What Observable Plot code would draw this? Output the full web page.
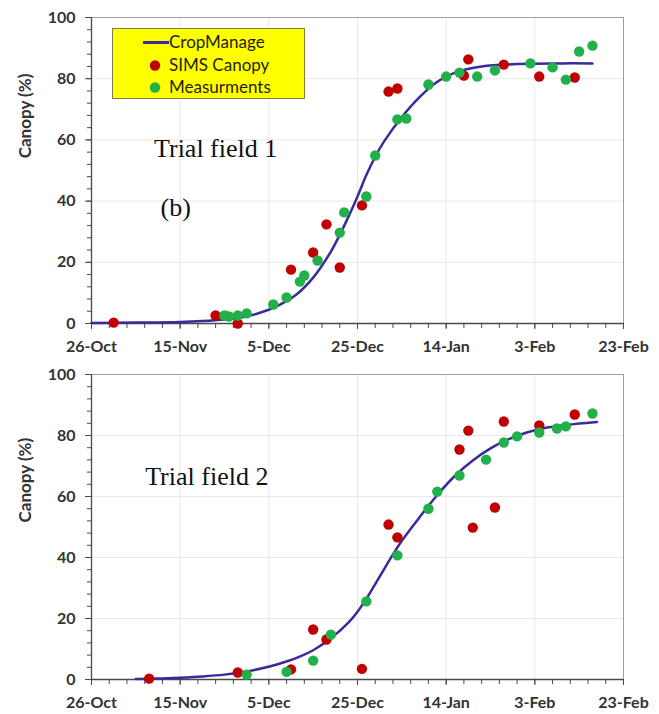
<!DOCTYPE html>
<html>
<head>
<meta charset="utf-8">
<script src="https://cdn.jsdelivr.net/npm/d3@7"></script>
<script src="https://cdn.jsdelivr.net/npm/@observablehq/plot@0.6"></script>
<style>
  body { margin: 0; background: #fff; }
  #wrap { position: relative; width: 659px; height: 714px; overflow: hidden; }
  #wrap svg { display: block; }
  .legend { position: absolute; left: 112px; top: 28px; width: 191px; height: 69px;
    background: #ffff00; border: 1px solid #7f7f3f; font-family: Lato, sans-serif;
    font-size: 17px; color: #1f1f00; }
  .legend .row { position: absolute; left: 0; height: 22px; line-height: 22px; white-space: nowrap; }
  .legend svg { position: absolute; left: 0; top: 0; }
  .legend span { position: absolute; left: 56px; top: 0; }
</style>
</head>
<body>
<div id="wrap"></div>
<script>
// ---------- data ----------
const xTickDates = ["2018-10-26","2018-11-15","2018-12-05","2018-12-25","2019-01-14","2019-02-03","2019-02-23"];
const xTickLabels = ["26-Oct","15-Nov","5-Dec","25-Dec","14-Jan","3-Feb","23-Feb"];
const yTicks = [0, 20, 40, 60, 80, 100];
const yLabel = "Canopy (%)";
const seriesNames = ["CropManage", "SIMS Canopy", "Measurments"];

// Trial field 1
const sims1Dates = ["2018-10-31","2018-11-23","2018-11-28","2018-12-10","2018-12-15","2018-12-18","2018-12-21","2018-12-26","2019-01-01","2019-01-03","2019-01-18","2019-01-19","2019-01-27","2019-02-04","2019-02-12"];
const sims1Values = [0.3, 2.6, 0, 17.6, 23.2, 32.4, 18.3, 38.6, 75.8, 76.8, 81, 86.3, 84.6, 80.7, 80.4];
const meas1Dates = ["2018-11-25","2018-11-26","2018-11-28","2018-11-30","2018-12-06","2018-12-09","2018-12-12","2018-12-13","2018-12-16","2018-12-21","2018-12-22","2018-12-27","2018-12-29","2019-01-03","2019-01-05","2019-01-10","2019-01-14","2019-01-17","2019-01-21","2019-01-25","2019-02-02","2019-02-07","2019-02-10","2019-02-13","2019-02-16"];
const meas1Values = [2.6, 2.3, 2.6, 3.3, 6.2, 8.5, 13.7, 15.7, 20.6, 29.7, 36.3, 41.5, 54.9, 66.7, 67, 78.1, 80.7, 82, 80.7, 82.7, 85, 83.7, 79.7, 88.9, 90.8];
const crop1Dates = ["2018-10-26","2018-11-05","2018-11-15","2018-11-20","2018-11-25","2018-11-29","2018-12-03","2018-12-07","2018-12-11","2018-12-15","2018-12-19","2018-12-21","2018-12-23","2018-12-25","2018-12-27","2018-12-29","2018-12-31","2019-01-04","2019-01-08","2019-01-12","2019-01-16","2019-01-22","2019-01-30","2019-02-09","2019-02-16"];
const crop1Values = [0.2, 0.3, 0.5, 0.8, 1.3, 2.0, 3.5, 5.8, 9.2, 15, 23.5, 29, 35, 41.5, 48.5, 54.5, 59.5, 67.5, 74, 79, 82, 84, 84.8, 85, 85];
const notes1Labels = ["Trial field 1", "(b)"];
const notes1Dates = ["2018-11-23", "2018-11-14"];
const notes1Values = [57, 38];

// Trial field 2
const sims2Dates = ["2018-11-08","2018-11-28","2018-12-10","2018-12-15","2018-12-18","2018-12-26","2019-01-01","2019-01-03","2019-01-17","2019-01-19","2019-01-20","2019-01-25","2019-01-27","2019-02-04","2019-02-12"];
const sims2Values = [0.3, 2.3, 3.3, 16.4, 13.1, 3.5, 50.8, 46.6, 75.4, 81.6, 49.8, 56.4, 84.6, 83.3, 86.9];
const meas2Dates = ["2018-11-30","2018-12-09","2018-12-15","2018-12-19","2018-12-27","2019-01-03","2019-01-10","2019-01-12","2019-01-17","2019-01-23","2019-01-27","2019-01-30","2019-02-04","2019-02-08","2019-02-10","2019-02-16"];
const meas2Values = [1.6, 2.5, 6.2, 14.7, 25.6, 40.7, 56, 61.6, 66.9, 72.1, 77.7, 79.7, 81, 82.3, 83, 87.2];
const crop2Dates = ["2018-11-05","2018-11-10","2018-11-15","2018-11-20","2018-11-25","2018-11-29","2018-12-03","2018-12-07","2018-12-11","2018-12-15","2018-12-19","2018-12-23","2018-12-25","2018-12-27","2018-12-29","2018-12-31","2019-01-02","2019-01-04","2019-01-08","2019-01-12","2019-01-16","2019-01-20","2019-01-24","2019-01-28","2019-02-01","2019-02-05","2019-02-09","2019-02-13","2019-02-17"];
const crop2Values = [0.2, 0.3, 0.6, 1.0, 1.6, 2.4, 3.5, 5.0, 6.9, 9.6, 13.5, 18.7, 22.2, 26.5, 31.3, 36.2, 41, 45.5, 53.2, 60.5, 66.8, 71.8, 75.8, 78.7, 80.9, 82.4, 83.3, 83.9, 84.4];
const notes2Labels = ["Trial field 2"];
const notes2Dates = ["2018-11-21"];
const notes2Values = [66.5];

// ---------- helpers ----------
const colors = { crop: "#3b2a9c", sims: "#c00000", meas: "#22b04b" };
const pts = (dates, values) => dates.map((d, i) => ({ date: new Date(d), value: values[i] }));
const notes = (labels, dates, values) => labels.map((l, i) => ({ label: l, date: new Date(dates[i]), value: values[i] }));

const majorTicks = xTickDates.map(d => new Date(d));
const xStart = majorTicks[0], xEnd = majorTicks[majorTicks.length - 1];
const minorTicks = d3.utcDay.range(xStart, d3.utcDay.offset(xEnd, 1), 4);
const yMinor = d3.range(0, 101, 4);
const labelOf = new Map(majorTicks.map((d, i) => [+d, xTickLabels[i]]));

function panel({ sims, meas, crop, notesData, yLabelPos, marginTop, marginBottom }) {
  return Plot.plot({
    width: 659,
    height: 357,
    marginLeft: 91,
    marginRight: 36,
    marginTop,
    marginBottom,
    style: { fontFamily: "Lato, sans-serif", background: "#fff", overflow: "visible" },
    x: { type: "utc", domain: [xStart, xEnd] },
    y: { domain: [0, 100] },
    marks: [
      Plot.gridX(majorTicks, { stroke: "#e9e9e9", strokeOpacity: 1 }),
      Plot.gridY(yTicks, { stroke: "#e9e9e9", strokeOpacity: 1 }),
      Plot.frame({ stroke: "#a0a0a0" }),
      Plot.ruleY([0], { stroke: "#4a4a4a", strokeWidth: 1.3 }),
      Plot.ruleX([xStart], { stroke: "#4a4a4a", strokeWidth: 1.3 }),
      Plot.axisY(yMinor, { anchor: "left", tickSize: 4, tickFormat: () => "", label: null, stroke: "#4a4a4a" }),
      Plot.axisY(yTicks, { anchor: "left", tickSize: 6, tickPadding: 10, label: null,
        fontSize: 16, fontWeight: "bold", fill: "#333", stroke: "#4a4a4a" }),
      Plot.axisX(minorTicks, { anchor: "bottom", tickSize: 5, tickFormat: () => "", label: null, stroke: "#4a4a4a" }),
      Plot.axisX(majorTicks, { anchor: "bottom", tickSize: 6, tickPadding: 11, label: null,
        tickFormat: d => labelOf.get(+d), fontSize: 16, fontWeight: "bold", fill: "#333", stroke: "#4a4a4a" }),
      Plot.text([{ label: yLabel, value: yLabelPos }], { y: "value", text: "label", frameAnchor: "left",
        dx: -66, rotate: -90, fontSize: 17, fontWeight: "bold", fill: "#333" }),
      Plot.line(crop, { x: "date", y: "value", stroke: colors.crop, strokeWidth: 2.5, curve: "catmull-rom" }),
      Plot.dot(sims, { x: "date", y: "value", r: 5.2, fill: colors.sims }),
      Plot.dot(meas, { x: "date", y: "value", r: 5.2, fill: colors.meas }),
      Plot.text(notesData, { x: "date", y: "value", text: "label", fontFamily: "'Liberation Serif', serif",
        fontSize: 26, fill: "#111" })
    ]
  });
}

const wrap = document.getElementById("wrap");
wrap.appendChild(panel({
  sims: pts(sims1Dates, sims1Values),
  meas: pts(meas1Dates, meas1Values),
  crop: pts(crop1Dates, crop1Values),
  notesData: notes(notes1Labels, notes1Dates, notes1Values),
  yLabelPos: 54, marginTop: 17, marginBottom: 34
}));
wrap.appendChild(panel({
  sims: pts(sims2Dates, sims2Values),
  meas: pts(meas2Dates, meas2Values),
  crop: pts(crop2Dates, crop2Values),
  notesData: notes(notes2Labels, notes2Dates, notes2Values),
  yLabelPos: 51.5, marginTop: 17, marginBottom: 35
}));

// legend (top panel)
const legend = document.createElement("div");
legend.className = "legend";
const rowTops = [2, 25, 47];
seriesNames.forEach((name, i) => {
  const row = document.createElement("div");
  row.className = "row";
  row.style.top = rowTops[i] + "px";
  row.style.width = "190px";
  const sw = i === 0
    ? `<svg width="56" height="22"><line x1="30" x2="56" y1="11.5" y2="11.5" stroke="${colors.crop}" stroke-width="3"/></svg>`
    : `<svg width="56" height="22"><circle cx="42" cy="11.5" r="5.2" fill="${i === 1 ? colors.sims : colors.meas}"/></svg>`;
  row.innerHTML = sw + `<span>${name}</span>`;
  legend.appendChild(row);
});
wrap.appendChild(legend);
</script>
</body>
</html>
